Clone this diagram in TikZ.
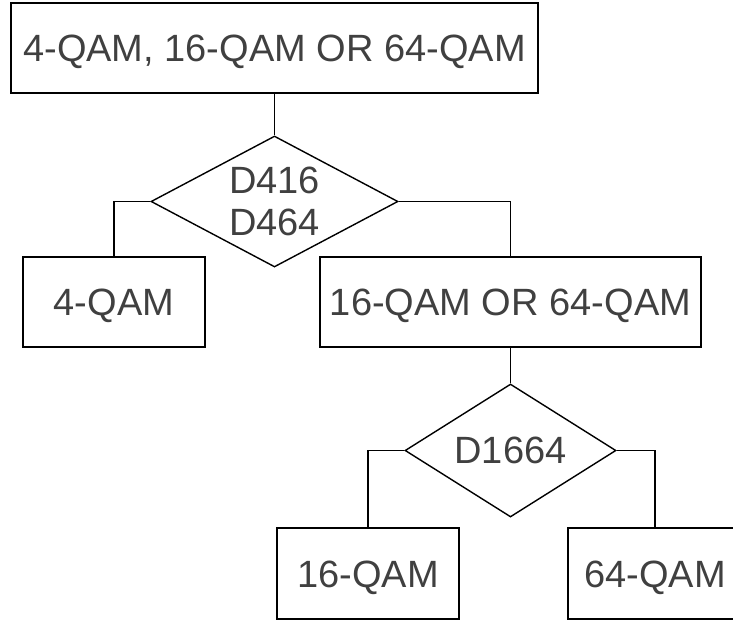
\documentclass[tikz,border=0pt]{standalone}
\usepackage{fontspec}
\setmainfont{Liberation Sans}
\usetikzlibrary{shapes.geometric}
\definecolor{labelgray}{HTML}{404040}
\tikzset{
  every node/.style={font=\fontsize{38}{42.7}\selectfont, text=labelgray},
  box/.style={draw=black, line width=1.4pt, rectangle, inner sep=0pt,
              text height=27.3pt, text depth=0pt},
  decision/.style={draw=black, line width=1.4pt, diamond, inner sep=0pt, align=center},
  link/.style={draw=black, line width=1.4pt}
}
\begin{document}
\begin{tikzpicture}[x=1pt, y=-1pt]
  \useasboundingbox (0,0) rectangle (733,621);
  \clip (0,0) rectangle (733,621);

  % first decision: 4-QAM versus the two larger constellations
  \node[box, minimum width=527pt, minimum height=90pt] (top) at (274.5,48) {4-QAM, 16-QAM OR 64-QAM};
  \node[decision, minimum width=247pt, minimum height=131pt, aspect=1.885] (d1) at (274.5,201.5) {D416\\D464};
  \node[box, minimum width=182pt, minimum height=90pt] (q4) at (114,302) {4-QAM};
  \node[box, minimum width=381pt, minimum height=90pt] (q1664) at (510.5,302) {16-QAM OR 64-QAM};

  % second decision: 16-QAM versus 64-QAM
  \node[decision, minimum width=211pt, minimum height=133pt, aspect=1.586] (d2) at (510.5,450.5) {D1664};
  \node[box, minimum width=182pt, minimum height=91pt] (q16) at (368,573.5) {16-QAM};
  \node[box, minimum width=174pt, minimum height=91pt] (q64) at (655,573.5) {64-QAM};

  \draw[link] (top.south) -- (d1.north);
  \draw[link] (d1.west) -| (q4.north);
  \draw[link] (d1.east) -| (q1664.north);
  \draw[link] (q1664.south) -- (d2.north);
  \draw[link] (d2.west) -| (q16.north);
  \draw[link] (d2.east) -| (q64.north);
\end{tikzpicture}
\end{document}
